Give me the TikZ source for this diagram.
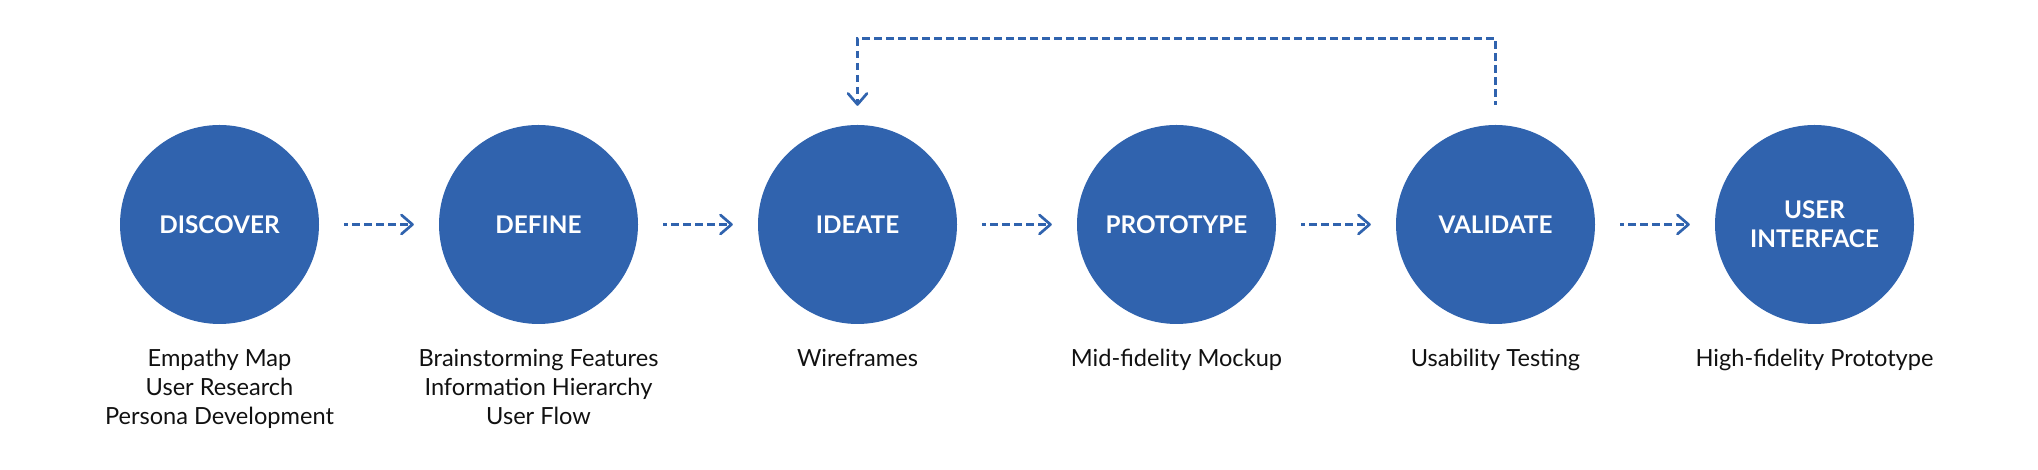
\documentclass[tikz,border=0pt]{standalone}
\usepackage{fontspec}
\setmainfont{Lato}
\usetikzlibrary{arrows.meta}

\definecolor{phaseblue}{HTML}{3063AE}
\definecolor{notegray}{HTML}{111111}

\tikzset{
  phase/.style={circle, fill=phaseblue, minimum size=199pt, inner sep=0pt,
    text=white, align=center, font=\fontsize{24.3}{29}\selectfont\bfseries},
  note/.style={anchor=base, inner sep=0pt, align=center, text=notegray,
    font=\fontsize{23.6}{29}\selectfont},
  flow/.style={draw=phaseblue, line width=2.7pt, dash pattern=on 7.3pt off 4.7pt,
    dash phase=4pt, -{Straight Barb[length=11pt, width=19pt, round]}},
}

\begin{document}
\begin{tikzpicture}[x=1pt, y=1pt]
\useasboundingbox (0,0) rectangle (2038,470);
% phases
\node[phase] (discover) at (219.5,245.5) {DISCOVER};
\node[phase] (define) at (538.5,245.5) {DEFINE};
\node[phase] (ideate) at (857.5,245.5) {IDEATE};
\node[phase] (prototype) at (1176.5,245.5) {PROTOTYPE};
\node[phase] (validate) at (1495.5,245.5) {VALIDATE};
\node[phase] (ui) at (1814.5,245.5) {USER\\INTERFACE};
% notes under the phases (base = last line)
\node[note] (discovernote) at (219.5,45.3) {Empathy Map\\User Research\\Persona Development};
\node[note] (definenote) at (538.5,45.3) {Brainstorming Features\\Information Hierarchy\\User Flow};
\node[note] (ideatenote) at (857.5,103.3) {Wireframes};
\node[note] (prototypenote) at (1176.5,103.3) {Mid-fidelity Mockup};
\node[note] (validatenote) at (1495.5,103.3) {Usability Testing};
\node[note] (uinote) at (1814.5,103.3) {High-fidelity Prototype};
% arrows
\foreach \a/\b in {discover/define, define/ideate, ideate/prototype, prototype/validate, validate/ui}
  \draw[flow, shorten <=25pt, shorten >=25pt] (\a) -- (\b);
% back to ideate
\coordinate (loopstart) at ([yshift=20pt]validate.north);
\coordinate (loopend) at ([yshift=19pt]ideate.north);
\draw[flow] (loopstart) -- ([yshift=86pt]validate.north) -- ([yshift=86pt]ideate.north) -- (loopend);
\end{tikzpicture}
\end{document}
